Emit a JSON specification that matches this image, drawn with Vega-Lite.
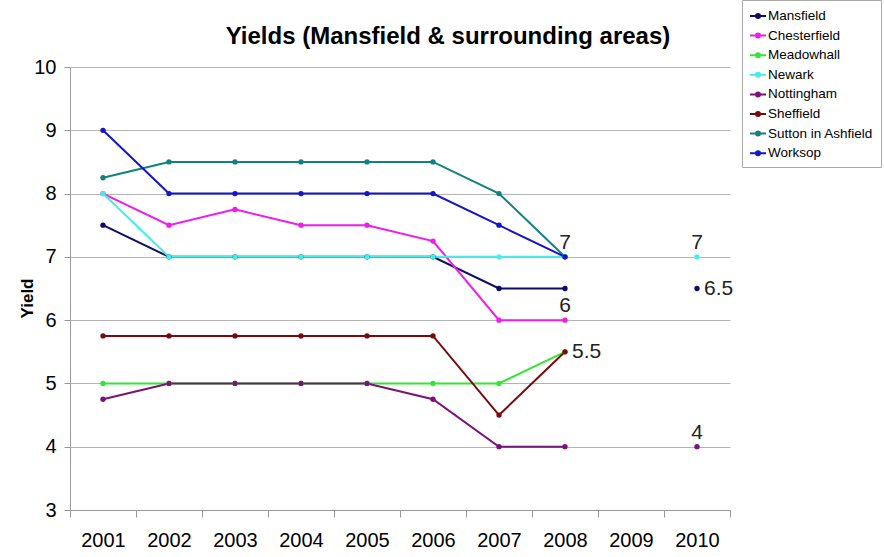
{
  "$schema": "https://vega.github.io/schema/vega-lite/v6.json",
  "width": 660,
  "height": 443,
  "autosize": {"type": "none"},
  "padding": {"left": 70, "top": 67, "right": 154, "bottom": 47},
  "background": "white",
  "title": {
    "text": "Yields (Mansfield & surrounding areas)",
    "font": "Liberation Sans",
    "fontSize": 24,
    "fontWeight": "bold",
    "color": "#000000",
    "anchor": "middle",
    "dx": 48,
    "dy": 67,
    "offset": 18
  },
  "config": {
    "view": {"stroke": null},
    "font": "Liberation Sans"
  },
  "data": {
    "values": [
      {"area": "Mansfield", "year": "2001", "yield": 7.5},
      {"area": "Mansfield", "year": "2002", "yield": 7},
      {"area": "Mansfield", "year": "2003", "yield": 7},
      {"area": "Mansfield", "year": "2004", "yield": 7},
      {"area": "Mansfield", "year": "2005", "yield": 7},
      {"area": "Mansfield", "year": "2006", "yield": 7},
      {"area": "Mansfield", "year": "2007", "yield": 6.5},
      {"area": "Mansfield", "year": "2008", "yield": 6.5},
      {"area": "Mansfield", "year": "2010", "yield": 6.5, "label": "6.5"},
      {"area": "Chesterfield", "year": "2001", "yield": 8},
      {"area": "Chesterfield", "year": "2002", "yield": 7.5},
      {"area": "Chesterfield", "year": "2003", "yield": 7.75},
      {"area": "Chesterfield", "year": "2004", "yield": 7.5},
      {"area": "Chesterfield", "year": "2005", "yield": 7.5},
      {"area": "Chesterfield", "year": "2006", "yield": 7.25},
      {"area": "Chesterfield", "year": "2007", "yield": 6},
      {"area": "Chesterfield", "year": "2008", "yield": 6, "label": "6"},
      {"area": "Meadowhall", "year": "2001", "yield": 5},
      {"area": "Meadowhall", "year": "2002", "yield": 5},
      {"area": "Meadowhall", "year": "2003", "yield": 5},
      {"area": "Meadowhall", "year": "2004", "yield": 5},
      {"area": "Meadowhall", "year": "2005", "yield": 5},
      {"area": "Meadowhall", "year": "2006", "yield": 5},
      {"area": "Meadowhall", "year": "2007", "yield": 5},
      {"area": "Meadowhall", "year": "2008", "yield": 5.5},
      {"area": "Newark", "year": "2001", "yield": 8},
      {"area": "Newark", "year": "2002", "yield": 7},
      {"area": "Newark", "year": "2003", "yield": 7},
      {"area": "Newark", "year": "2004", "yield": 7},
      {"area": "Newark", "year": "2005", "yield": 7},
      {"area": "Newark", "year": "2006", "yield": 7},
      {"area": "Newark", "year": "2007", "yield": 7},
      {"area": "Newark", "year": "2008", "yield": 7},
      {"area": "Newark", "year": "2010", "yield": 7, "label": "7"},
      {"area": "Nottingham", "year": "2001", "yield": 4.75},
      {"area": "Nottingham", "year": "2002", "yield": 5},
      {"area": "Nottingham", "year": "2003", "yield": 5},
      {"area": "Nottingham", "year": "2004", "yield": 5},
      {"area": "Nottingham", "year": "2005", "yield": 5},
      {"area": "Nottingham", "year": "2006", "yield": 4.75},
      {"area": "Nottingham", "year": "2007", "yield": 4},
      {"area": "Nottingham", "year": "2008", "yield": 4},
      {"area": "Nottingham", "year": "2010", "yield": 4, "label": "4"},
      {"area": "Sheffield", "year": "2001", "yield": 5.75},
      {"area": "Sheffield", "year": "2002", "yield": 5.75},
      {"area": "Sheffield", "year": "2003", "yield": 5.75},
      {"area": "Sheffield", "year": "2004", "yield": 5.75},
      {"area": "Sheffield", "year": "2005", "yield": 5.75},
      {"area": "Sheffield", "year": "2006", "yield": 5.75},
      {"area": "Sheffield", "year": "2007", "yield": 4.5},
      {"area": "Sheffield", "year": "2008", "yield": 5.5, "label": "5.5"},
      {"area": "Sutton in Ashfield", "year": "2001", "yield": 8.25},
      {"area": "Sutton in Ashfield", "year": "2002", "yield": 8.5},
      {"area": "Sutton in Ashfield", "year": "2003", "yield": 8.5},
      {"area": "Sutton in Ashfield", "year": "2004", "yield": 8.5},
      {"area": "Sutton in Ashfield", "year": "2005", "yield": 8.5},
      {"area": "Sutton in Ashfield", "year": "2006", "yield": 8.5},
      {"area": "Sutton in Ashfield", "year": "2007", "yield": 8},
      {"area": "Sutton in Ashfield", "year": "2008", "yield": 7},
      {"area": "Worksop", "year": "2001", "yield": 9},
      {"area": "Worksop", "year": "2002", "yield": 8},
      {"area": "Worksop", "year": "2003", "yield": 8},
      {"area": "Worksop", "year": "2004", "yield": 8},
      {"area": "Worksop", "year": "2005", "yield": 8},
      {"area": "Worksop", "year": "2006", "yield": 8},
      {"area": "Worksop", "year": "2007", "yield": 7.5},
      {"area": "Worksop", "year": "2008", "yield": 7, "label": "7"}
    ]
  },
  "encoding": {
    "x": {
      "field": "year",
      "type": "ordinal",
      "scale": {"domain": ["2001","2002","2003","2004","2005","2006","2007","2008","2009","2010"], "paddingInner": 0, "paddingOuter": 0},
      "axis": {
        "title": null,
        "labelAngle": 0,
        "labelFontSize": 20,
        "labelColor": "#000000",
        "labelPadding": 13,
        "tickBand": "extent",
        "tickSize": 7,
        "tickColor": "#999999",
        "domainColor": "#999999",
        "grid": false
      }
    },
    "y": {
      "field": "yield",
      "type": "quantitative",
      "scale": {"domain": [3, 10], "nice": false, "zero": false},
      "axis": {
        "title": "Yield",
        "titleFontSize": 17,
        "titleFontWeight": "bold",
        "titleColor": "#000000",
        "titleX": -43,
        "titleY": 231,
        "titleBaseline": "middle",
        "titleAlign": "center",
        "titleAngle": -90,
        "values": [3,4,5,6,7,8,9,10],
        "labelFontSize": 20,
        "labelColor": "#000000",
        "labelPadding": 8,
        "tickSize": 6,
        "tickColor": "#999999",
        "domainColor": "#999999",
        "grid": true,
        "gridColor": "#b4b4b4"
      }
    },
    "color": {
      "field": "area",
      "type": "nominal",
      "scale": {
        "domain": ["Mansfield","Chesterfield","Meadowhall","Newark","Nottingham","Sheffield","Sutton in Ashfield","Worksop"],
        "range": ["#0c0c66","#ee1cee","#33e633","#46ecec","#7a1278","#7a0a0a","#108080","#1414c8"]
      },
      "legend": {
        "title": null,
        "orient": "none",
        "legendX": 672,
        "legendY": -67,
        "padding": 7,
        "strokeColor": "#aaaaaa",
        "fillColor": "white",
        "labelFontSize": 13.5,
        "labelColor": "#000000",
        "labelFont": "Liberation Sans",
        "symbolType": "M-1,0H1M0.25,0A0.25,0.25 0 1,1 -0.25,0A0.25,0.25 0 1,1 0.25,0Z",
        "symbolSize": 256,
        "symbolStrokeWidth": 2,
        "rowPadding": 3.6,
        "labelOffset": 1
      }
    }
  },
  "layer": [
    {
      "transform": [{"filter": "datum.year <= '2008'"}],
      "mark": {"type": "line", "strokeWidth": 2},
      "encoding": {}
    },
    {
      "mark": {"type": "point", "filled": true, "size": 28, "opacity": 1},
      "encoding": {}
    },
    {
      "transform": [{"filter": "datum.label != null && datum.area != 'Sheffield' && datum.area != 'Mansfield'"}],
      "mark": {"type": "text", "fontSize": 21, "baseline": "alphabetic", "dy": -8, "color": "#222222"},
      "encoding": {"text": {"field": "label"}, "color": {"value": "#222222"}}
    },
    {
      "transform": [{"filter": "datum.label != null && (datum.area == 'Sheffield' || datum.area == 'Mansfield')"}],
      "mark": {"type": "text", "fontSize": 21, "baseline": "middle", "align": "left", "dx": 7, "color": "#222222"},
      "encoding": {"text": {"field": "label"}, "color": {"value": "#222222"}}
    }
  ]
}
